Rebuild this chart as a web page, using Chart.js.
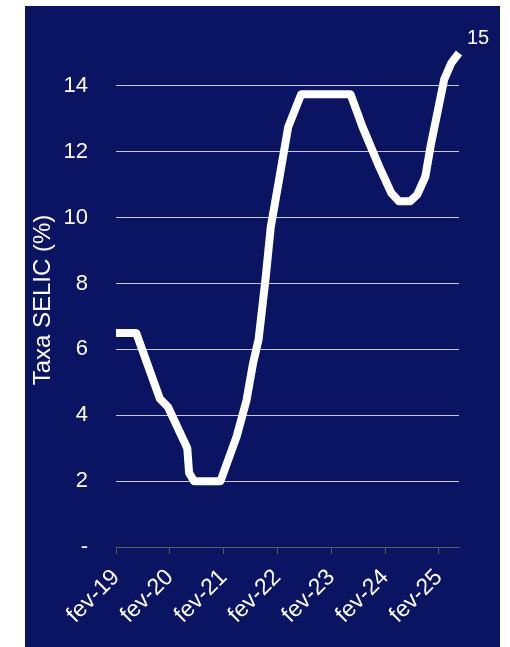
<!DOCTYPE html>
<html>
<head>
<meta charset="utf-8">
<script src="https://cdn.jsdelivr.net/npm/chart.js@4.4.1/dist/chart.umd.min.js"></script>
<style>
html,body{margin:0;padding:0;background:#ffffff;}
#wrap{position:absolute;left:0;top:0;width:510px;height:647px;}
</style>
</head>
<body>
<div id="wrap"><canvas id="c"></canvas></div>
<script>
// months since fev-19 (x position) and SELIC rate (%)
const months = [0, 4.5, 9.8, 11.6, 15.9, 16.3, 17.4, 23.3, 26.9, 29.1, 30.6, 31.8, 33.4, 34.5, 36.3, 38.4, 41.3, 52.3, 55.0, 58.7, 61.4, 63.1, 65.6, 67.2, 69.0, 70.2, 72.0, 73.2, 74.8, 76.5];
const selic = [6.5, 6.5, 4.5, 4.25, 3.0, 2.25, 2.0, 2.0, 3.35, 4.45, 5.6, 6.3, 8.2, 9.7, 11.1, 12.75, 13.75, 13.75, 12.75, 11.55, 10.75, 10.5, 10.5, 10.7, 11.25, 12.2, 13.4, 14.2, 14.7, 15];
const tickMonths = [0, 12, 24, 36, 48, 60, 72];
const tickLabels = ['fev-19', 'fev-20', 'fev-21', 'fev-22', 'fev-23', 'fev-24', 'fev-25'];
const yAxisTitle = 'Taxa SELIC (%)';

const FONT = "'Liberation Sans', Arial, sans-serif";
const NAVY = '#0b1462';

const bgPlugin = {
  id: 'bg',
  beforeDraw(chart) {
    const ctx = chart.ctx;
    ctx.save();
    ctx.fillStyle = NAVY;
    ctx.fillRect(25, 6, 475, 641);
    ctx.restore();
  }
};

const lastLabelPlugin = {
  id: 'lastLabel',
  afterDatasetsDraw(chart) {
    const ctx = chart.ctx;
    const xs = chart.scales.x, ys = chart.scales.y;
    const i = selic.length - 1;
    const px = xs.getPixelForValue(months[i]);
    const py = ys.getPixelForValue(selic[i]);
    ctx.save();
    ctx.fillStyle = '#ffffff';
    ctx.font = '20px ' + FONT;
    ctx.textAlign = 'left';
    ctx.textBaseline = 'alphabetic';
    ctx.fillText(String(selic[i]), px + 8, py - 9);
    ctx.restore();
  }
};

new Chart(document.getElementById('c'), {
  type: 'line',
  data: {
    datasets: [{
      data: months.map((m, i) => ({x: m, y: selic[i]})),
      borderColor: '#ffffff',
      borderWidth: 8,
      borderJoinStyle: 'round',
      borderCapStyle: 'butt',
      pointRadius: 0,
      tension: 0,
      fill: false,
      clip: false
    }]
  },
  options: {
    responsive: true,
    maintainAspectRatio: false,
    animation: false,
    devicePixelRatio: 1,
    layout: {padding: {left: 0, right: 51, top: 53, bottom: 0}},
    plugins: {legend: {display: false}, tooltip: {enabled: false}},
    scales: {
      x: {
        type: 'linear',
        min: 0,
        max: 76.5,
        afterBuildTicks(scale) { scale.ticks = tickMonths.map(v => ({value: v})); },
        afterFit(scale) { scale.height = 100; },
        grid: {drawOnChartArea: false, drawTicks: true, tickLength: 7, tickColor: '#5a5a5a', lineWidth: 1},
        border: {display: true, color: '#5a5a5a', width: 1},
        ticks: {
          autoSkip: false,
          minRotation: 45,
          maxRotation: 45,
          padding: 10,
          color: '#ffffff',
          font: {family: FONT, size: 23},
          callback(v) { const k = tickMonths.indexOf(v); return k >= 0 ? tickLabels[k] : ''; }
        }
      },
      y: {
        min: 0,
        max: 15,
        afterFit(scale) { scale.width = 116; },
        grid: {
          drawTicks: false,
          lineWidth: 1,
          color(ctx) { return ctx.tick && ctx.tick.value === 0 ? 'rgba(0,0,0,0)' : '#c8c8c8'; }
        },
        border: {display: false},
        ticks: {
          stepSize: 2,
          includeBounds: false,
          padding: 28,
          color: '#ffffff',
          font: {family: FONT, size: 22},
          callback(v) { return v === 0 ? '-' : String(v); }
        },
        title: {
          display: true,
          text: yAxisTitle,
          color: '#ffffff',
          font: {family: FONT, size: 24},
          padding: {top: 29, bottom: 0}
        }
      }
    }
  },
  plugins: [bgPlugin, lastLabelPlugin]
});
</script>
</body>
</html>
